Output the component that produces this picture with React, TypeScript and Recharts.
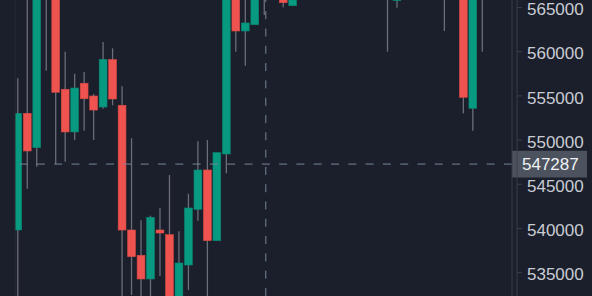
import React from 'react';
import { ComposedChart, Bar, XAxis, YAxis, ReferenceLine } from 'recharts';

// candle index (time slot)
const candleIndex = [
  0, 1, 2, 3, 4, 5, 6, 7, 8, 9, 10, 11, 12, 13, 14, 15, 16, 17, 18, 19, 20, 21, 22, 23, 24, 25, 26,
  27, 28, 29, 30, 31, 32, 33, 34, 35, 36, 37, 38, 39, 40, 41, 42, 43, 44, 45, 46, 47, 48, 49, 50, 51, 52,
];

const opens = [
  539830, 553030, 549140, 567000, 568000, 555750, 550920, 556430, 554990, 553740, 559100, 553940, 539830,
  536970, 534290, 539830, 539300, 531500, 535870, 542170, 546620, 538620, 548430, 567500, 562340, 563050,
  567500, 569000, 568000, 565200, 567200, 569100, 568300, 570000, 571800, 570600, 569300, 568100, 569600,
  568200, 565770, 568400, 570100, 569000, 567800, 569200, 567600, 568900, 553600, 567400, 568100, 569700,
  570900,
];

const highs = [
  556990, 567500, 568500, 570500, 569000, 560000, 557510, 557700, 555220, 561100, 560380, 556090, 550200,
  540930, 541450, 542320, 546050, 539680, 543940, 549860, 550010, 548580, 568000, 568500, 567000, 568500,
  570000, 571500, 569500, 568500, 569900, 571200, 570400, 572600, 573100, 571900, 570800, 570200, 571500,
  569800, 569600, 570900, 572300, 570600, 569900, 571000, 570200, 569700, 568600, 569300, 570500, 571800,
  572200,
];

const lows = [
  531000, 544500, 546990, 557850, 547300, 547560, 550010, 551060, 550010, 553550, 553940, 531500, 532480,
  531000, 530500, 534630, 530000, 530000, 533040, 540880, 531000, 538620, 546240, 560000, 558420, 563050,
  564150, 567000, 565020, 565200, 566300, 567800, 566900, 569200, 569900, 568400, 567300, 566700, 567900,
  560000, 564980, 567500, 568800, 566900, 566400, 562340, 566500, 553030, 551060, 560000, 566800, 568300,
  567900,
];

const closes = [
  553030, 548770, 567500, 569500, 555410, 550920, 555890, 554680, 553400, 559140, 554650, 539830, 536810,
  534290, 541270, 539490, 531800, 536100, 542320, 546620, 538620, 548580, 567000, 562340, 563250, 567500,
  569000, 570500, 565540, 567500, 569100, 568300, 570000, 571800, 570600, 569300, 568100, 569600, 568200,
  567100, 568400, 570100, 569000, 567800, 569200, 567600, 568900, 554840, 567400, 568100, 569700, 570900,
  568600,
];

const priceTicks = [535000, 540000, 545000, 550000, 555000, 560000, 565000];
const priceDomain = [532364, 565848];
const indexDomain = [-0.266, 52.16];
const crosshairPrice = 547287;
const crosshairIndex = 26.19;

const data = candleIndex.map((i, k) => ({
  i,
  open: opens[k],
  high: highs[k],
  low: lows[k],
  close: closes[k],
  range: [lows[k], highs[k]],
}));

const BG = '#1b1f2b';
const UP = '#089981';
const DOWN = '#ef5350';
const WICK = '#6b6e79';
const AXIS = '#3a3e4a';
const TEXT = '#c9ccd3';
const CROSS = '#758696';
const BODY_W = 7.8;
const FONT = '"Liberation Sans", Arial, sans-serif';

const Candle = (props: any) => {
  const { x, y, width, height, payload } = props;
  if (!payload || height == null) return null;
  const { open, close, high, low } = payload;
  const cx = x + width / 2;
  const ppu = height / (high - low);
  const top = y + (high - Math.max(open, close)) * ppu;
  const bot = y + (high - Math.min(open, close)) * ppu;
  const up = close >= open;
  const fill = up ? UP : DOWN;
  return (
    <g>
      <line x1={cx} x2={cx} y1={y} y2={y + height} stroke={WICK} strokeWidth={1.3} />
      <rect
        x={cx - BODY_W / 2}
        y={top}
        width={BODY_W}
        height={Math.max(bot - top, 1)}
        fill={fill}
        stroke={up ? '#0b8572' : '#d84a43'}
        strokeWidth={0.6}
      />
    </g>
  );
};

const PriceTick = (props: any) => {
  const { x, y, payload } = props;
  return (
    <text
      x={x}
      y={y + 1.6}
      dy="0.355em"
      fill={TEXT}
      fontSize={17}
      fontFamily={FONT}
      textAnchor="start"
    >
      {payload.value}
    </text>
  );
};

const CrossLabel = (props: any) => {
  const vb = props.viewBox || {};
  const lx = vb.x + vb.width;
  const ly = vb.y;
  return (
    <g>
      <rect x={lx} y={ly - 13.3} width={75} height={26.7} fill="#4c525e" />
      <text
        x={lx + 10}
        y={ly}
        dy="0.355em"
        fill="#f0f2f5"
        fontSize={17}
        fontFamily={FONT}
        textAnchor="start"
      >
        {String(crosshairPrice)}
      </text>
    </g>
  );
};

export default function App() {
  return (
    <div style={{ position: 'absolute', left: 0, top: 0, width: 592, height: 296, background: BG }}>
      <ComposedChart
        width={592}
        height={296}
        data={data}
        margin={{ top: 0, right: 0, bottom: 0, left: 0 }}
      >
        <XAxis
          dataKey="i"
          type="number"
          domain={indexDomain}
          allowDataOverflow
          hide
        />
        <YAxis
          yAxisId="leftEdge"
          orientation="left"
          width={15}
          domain={[0, 1]}
          tick={false}
          tickLine={false}
          axisLine={{ stroke: '#272b36' }}
        />
        <YAxis
          yAxisId="price"
          orientation="right"
          width={75}
          domain={priceDomain}
          allowDataOverflow
          ticks={priceTicks}
          interval={0}
          tickSize={5}
          tickMargin={5}
          axisLine={{ stroke: AXIS }}
          tickLine={{ stroke: AXIS }}
          tick={<PriceTick />}
        />
        <YAxis
          yAxisId="edge"
          orientation="right"
          width={5}
          domain={[0, 1]}
          tick={false}
          tickLine={false}
          axisLine={{ stroke: AXIS }}
        />
        <Bar
          yAxisId="price"
          dataKey="range"
          barSize={8}
          shape={<Candle />}
          isAnimationActive={false}
        />
        <ReferenceLine
          yAxisId="price"
          x={crosshairIndex}
          stroke={CROSS}
          strokeDasharray="8 9.3"
          strokeWidth={1}
        />
        <ReferenceLine
          yAxisId="price"
          y={crosshairPrice}
          stroke={CROSS}
          strokeDasharray="8 9.3"
          strokeWidth={1}
          label={<CrossLabel />}
        />
      </ComposedChart>
    </div>
  );
}
